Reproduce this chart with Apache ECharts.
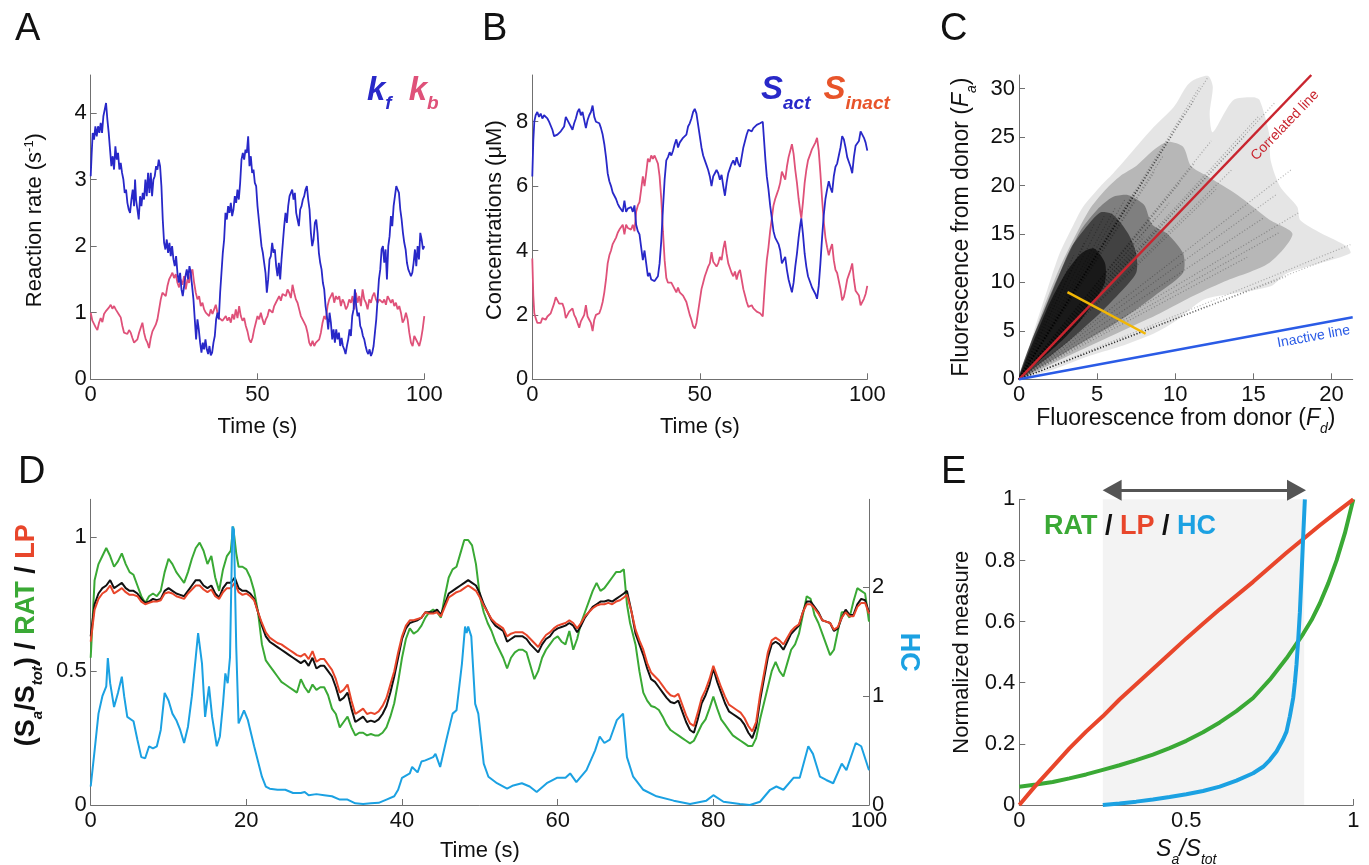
<!DOCTYPE html>
<html><head><meta charset="utf-8">
<script src="https://cdn.jsdelivr.net/npm/echarts@6/dist/echarts.min.js"></script>
<style>html,body{margin:0;padding:0;background:#fff}#c{width:1369px;height:865px}</style>
</head><body><div id="c"></div>
<script>
// ---------------- DATA ----------------
const aTicksX = [0, 50, 100];
const aTicksY = [0, 1, 2, 3, 4];
const kfData = [[0,3.05],[0.3,3.4],[0.6,3.7],[1,3.6],[1.4,3.8],[1.8,3.65],[2.2,3.8],[2.6,3.7],[3,3.85],[3.4,3.7],[3.8,3.95],[4.2,4.05],[4.6,4.15],[5,3.9],[5.4,3.7],[5.8,3.45],[6.2,3.2],[6.6,3.35],[7,3.15],[7.4,3.5],[7.8,3.3],[8.2,3.4],[8.6,3.15],[9,3.25],[9.4,3.1],[9.8,3.0],[10.2,2.8],[10.6,2.85],[11,2.65],[11.4,2.55],[11.8,2.5],[12.2,2.7],[12.6,2.85],[13,2.6],[13.3,3.0],[13.6,2.7],[14,2.55],[14.4,2.4],[14.8,2.75],[15.2,2.6],[15.6,2.8],[16,2.7],[16.4,3.0],[16.8,2.75],[17.2,3.1],[17.6,2.8],[18,3.1],[18.4,2.75],[18.8,3.0],[19.2,3.05],[19.6,3.2],[20,3.15],[20.4,3.3],[20.8,3.2],[21.2,2.9],[21.6,2.4],[22,2.05],[22.4,1.95],[22.8,2.1],[23.2,1.9],[23.6,2.05],[24,1.85],[24.4,2.0],[24.8,1.8],[25.2,1.7],[25.6,1.85],[26,1.6],[26.4,1.45],[26.8,1.6],[27.2,1.35],[27.6,1.25],[28,1.4],[28.4,1.55],[28.8,1.65],[29.2,1.5],[29.6,1.7],[30,1.6],[30.4,1.4],[30.8,1.2],[31.2,0.9],[31.6,0.6],[32,0.9],[32.4,0.75],[32.8,0.55],[33.2,0.4],[33.6,0.55],[34,0.45],[34.4,0.6],[34.8,0.45],[35.2,0.38],[35.6,0.5],[36,0.36],[36.4,0.4],[36.8,0.55],[37.2,0.65],[37.6,0.9],[38,1.0],[38.4,0.9],[38.8,1.3],[39.2,1.6],[39.6,1.9],[40,2.1],[40.4,2.5],[40.8,2.4],[41.2,2.6],[41.6,2.5],[42,2.65],[42.4,2.45],[42.8,2.55],[43.2,2.75],[43.6,2.65],[44,2.85],[44.4,2.7],[44.8,2.95],[45.2,3.3],[45.6,3.4],[46,3.3],[46.4,3.45],[46.8,3.4],[47.2,3.65],[47.6,3.2],[48,3.35],[48.4,3.1],[48.8,3.15],[49.2,2.95],[49.6,2.9],[50,2.6],[50.4,2.4],[50.8,2.2],[51.2,2.0],[51.6,1.9],[52,1.75],[52.4,1.6],[52.8,1.3],[53.2,1.5],[53.6,1.8],[54,1.85],[54.4,2.05],[54.8,1.9],[55.2,1.95],[55.6,1.7],[56,1.55],[56.4,1.75],[56.8,1.5],[57.2,1.8],[57.6,2.05],[58,2.3],[58.4,2.5],[58.8,2.35],[59.2,2.6],[59.6,2.75],[60,2.8],[60.4,2.85],[60.8,2.7],[61.2,2.8],[61.6,2.5],[62,2.4],[62.4,2.3],[62.8,2.55],[63.2,2.6],[63.6,2.7],[64,2.75],[64.4,2.85],[64.8,2.9],[65.2,2.7],[65.6,2.55],[66,2.2],[66.4,2.0],[66.8,2.1],[67.2,2.35],[67.6,2.4],[68,2.2],[68.4,1.9],[68.8,1.75],[69.2,1.65],[69.6,1.45],[70,1.35],[70.4,1.1],[70.8,0.95],[71.2,0.75],[71.6,1.0],[72,0.85],[72.4,0.6],[72.8,0.75],[73.2,0.55],[73.6,0.75],[74,0.6],[74.4,0.7],[74.8,0.5],[75.2,0.62],[75.6,0.5],[76,0.45],[76.4,0.38],[76.8,0.5],[77.2,0.6],[77.6,0.75],[78,0.65],[78.4,0.95],[78.8,1.05],[79.2,1.35],[79.6,1.1],[80,0.95],[80.4,1.0],[80.8,0.8],[81.2,0.75],[81.6,0.65],[82,0.6],[82.4,0.5],[82.8,0.42],[83.2,0.38],[83.6,0.45],[84,0.35],[84.4,0.4],[84.8,0.5],[85.2,0.7],[85.6,0.9],[86,1.2],[86.4,1.5],[86.8,1.65],[87.2,1.95],[87.6,2.0],[88,1.75],[88.4,1.95],[88.8,1.5],[89.2,2.0],[89.6,2.15],[90,2.45],[90.4,2.3],[90.8,2.6],[91.2,2.75],[91.6,2.9],[92,2.85],[92.4,2.8],[92.8,2.55],[93.2,2.4],[93.6,2.2],[94,2.05],[94.4,1.95],[94.8,1.75],[95.2,1.65],[95.6,1.6],[96,1.55],[96.4,1.6],[96.8,1.75],[97.2,1.95],[97.6,1.7],[98,2.0],[98.4,1.8],[98.8,2.2],[99.2,2.1],[99.6,1.95],[100,2.0]];
const kbData = [[0,1.0],[0.5,0.88],[1,0.85],[1.5,0.78],[2,0.74],[2.5,0.85],[3,0.92],[3.5,0.86],[4,0.98],[4.5,1.02],[5,1.0],[5.5,1.08],[6,1.12],[6.5,1.06],[7,1.1],[7.5,1.05],[8,1.04],[8.5,0.97],[9,0.93],[9.5,0.8],[10,0.7],[10.5,0.72],[11,0.68],[11.5,0.74],[12,0.7],[12.5,0.62],[13,0.55],[13.5,0.52],[14,0.6],[14.5,0.7],[15,0.72],[15.5,0.85],[16,0.7],[16.5,0.6],[17,0.55],[17.5,0.47],[18,0.62],[18.5,0.72],[19,0.75],[19.5,0.82],[20,0.9],[20.5,1.05],[21,1.2],[21.5,1.3],[22,1.32],[22.5,1.25],[23,1.4],[23.5,1.5],[24,1.55],[24.5,1.6],[25,1.52],[25.5,1.58],[26,1.45],[26.5,1.38],[27,1.5],[27.5,1.42],[28,1.55],[28.5,1.35],[29,1.5],[29.5,1.45],[30,1.6],[30.5,1.65],[31,1.45],[31.5,1.3],[32,1.2],[32.5,1.25],[33,1.1],[33.5,1.15],[34,1.05],[34.5,1.0],[35,1.0],[35.5,0.95],[36,1.05],[36.5,0.98],[37,1.05],[37.5,1.12],[38,1.0],[38.5,0.92],[39,0.95],[39.5,0.88],[40,0.9],[40.5,0.95],[41,0.88],[41.5,0.93],[42,0.85],[42.5,0.98],[43,0.9],[43.5,1.05],[44,0.92],[44.5,1.1],[45,0.95],[45.5,0.88],[46,0.92],[46.5,0.8],[47,0.72],[47.5,0.6],[48,0.55],[48.5,0.62],[49,0.75],[49.5,0.85],[50,0.95],[50.5,0.9],[51,1.0],[51.5,0.9],[52,0.82],[52.5,0.9],[53,0.95],[53.5,1.05],[54,1.08],[54.5,1.0],[55,1.1],[55.5,1.15],[56,1.12],[56.5,1.25],[57,1.18],[57.5,1.28],[58,1.3],[58.5,1.25],[59,1.35],[59.5,1.3],[60,1.22],[60.5,1.42],[61,1.3],[61.5,1.2],[62,1.15],[62.5,1.05],[63,0.95],[63.5,0.9],[64,0.85],[64.5,0.8],[65,0.7],[65.5,0.55],[66,0.5],[66.5,0.58],[67,0.5],[67.5,0.55],[68,0.52],[68.5,0.6],[69,0.7],[69.5,0.85],[70,0.95],[70.5,0.9],[71,1.1],[71.5,1.2],[72,1.25],[72.5,1.3],[73,1.15],[73.5,1.25],[74,1.2],[74.5,1.25],[75,1.1],[75.5,1.2],[76,1.15],[76.5,1.05],[77,1.1],[77.5,1.2],[78,1.15],[78.5,1.25],[79,1.05],[79.5,1.3],[80,1.15],[80.5,1.25],[81,1.1],[81.5,1.35],[82,1.2],[82.5,1.15],[83,1.05],[83.5,1.2],[84,1.15],[84.5,1.25],[85,1.3],[85.5,1.2],[86,1.15],[86.5,1.2],[87,1.18],[87.5,1.15],[88,1.2],[88.5,1.12],[89,1.25],[89.5,1.2],[90,1.15],[90.5,1.2],[91,1.1],[91.5,1.15],[92,1.05],[92.5,1.1],[93,1.0],[93.5,0.85],[94,0.9],[94.5,1.0],[95,0.9],[95.5,0.7],[96,0.55],[96.5,0.5],[97,0.65],[97.5,0.68],[98,0.55],[98.5,0.5],[99,0.6],[99.5,0.75],[100,0.95]];

const bTicksY = [0, 2, 4, 6, 8];
const sActData = [[0,6.3],[0.3,7.4],[0.6,8.0],[1,8.2],[1.5,8.3],[2,8.15],[2.5,8.25],[3,8.1],[3.5,8.2],[4,8.25],[4.5,8.1],[5,8.0],[5.5,7.95],[6,7.75],[6.5,7.55],[7,7.5],[7.5,7.6],[8,7.65],[8.5,7.7],[9,7.75],[9.5,7.85],[10,8.15],[10.5,8.05],[11,7.95],[11.5,7.85],[12,7.75],[12.5,7.95],[13,8.1],[13.5,8.3],[14,8.4],[14.5,8.2],[15,8.3],[15.5,8.05],[16,7.8],[16.5,8.05],[17,8.2],[17.5,8.3],[18,8.5],[18.5,8.15],[19,8.0],[19.5,8.05],[20,7.95],[20.5,7.8],[21,7.6],[21.5,7.3],[22,6.9],[22.5,6.4],[23,6.15],[23.5,6.0],[24,5.8],[24.5,5.7],[25,5.6],[25.5,5.45],[26,5.35],[26.5,5.4],[27,5.2],[27.5,5.55],[28,5.2],[28.5,5.3],[29,5.25],[29.5,5.35],[30,5.2],[30.5,5.4],[31,4.8],[31.5,4.6],[32,4.5],[32.5,4.1],[33,3.7],[33.5,4.0],[34,3.6],[34.5,3.2],[35,3.3],[35.5,3.1],[36,3.15],[36.5,3.05],[37,3.0],[37.5,3.2],[38,3.6],[38.5,4.3],[39,5.3],[39.5,6.2],[40,6.8],[40.5,6.9],[41,7.05],[41.5,6.95],[42,7.1],[42.5,7.3],[43,7.45],[43.5,7.2],[44,7.35],[44.5,7.4],[45,7.5],[45.5,7.45],[46,7.6],[46.5,7.85],[47,7.95],[47.5,8.1],[48,8.3],[48.5,8.4],[49,8.25],[49.5,7.9],[50,7.55],[50.5,7.2],[51,6.95],[51.5,6.8],[52,6.65],[52.5,6.5],[53,6.3],[53.5,6.0],[54,6.3],[54.5,6.4],[55,6.5],[55.5,6.4],[56,6.2],[56.5,6.35],[57,6.0],[57.5,5.7],[58,6.1],[58.5,6.4],[59,6.55],[59.5,6.7],[60,6.8],[60.5,6.65],[61,6.9],[61.5,6.7],[62,6.6],[62.5,6.9],[63,7.2],[63.5,7.4],[64,7.6],[64.5,7.75],[65,7.8],[65.5,7.7],[66,7.8],[66.5,7.75],[67,7.9],[67.5,7.85],[68,7.95],[68.5,8.0],[68.8,8.0],[69.2,7.4],[69.6,6.8],[70,6.3],[70.5,5.9],[71,5.4],[71.5,5.0],[72,4.6],[72.5,4.4],[73,4.3],[73.5,4.2],[74,4.0],[74.5,3.6],[75,3.55],[75.5,3.8],[76,3.4],[76.5,3.1],[77,2.9],[77.5,2.7],[78,3.0],[78.5,3.5],[79,3.9],[79.5,4.4],[80,4.8],[80.3,5.0],[80.8,4.5],[81.3,3.9],[81.8,3.5],[82.3,3.2],[83,3.0],[83.5,2.85],[84,2.8],[84.5,2.65],[85,2.5],[85.5,2.9],[86,3.6],[86.5,4.4],[87,5.1],[87.5,5.6],[88,5.9],[88.5,6.15],[89,5.95],[89.5,5.8],[90,6.3],[90.5,6.6],[91,6.7],[91.5,6.75],[92,7.2],[92.5,7.55],[93,7.45],[93.5,7.2],[94,6.9],[94.5,6.75],[95,6.6],[95.5,6.4],[96,6.9],[96.5,7.25],[97,7.2],[97.5,7.4],[98,7.7],[98.5,7.65],[99,7.5],[99.5,7.35],[100,7.1]];
const sInactData = [[0,3.75],[0.3,2.6],[0.6,2.05],[1,1.9],[1.5,1.75],[2,1.8],[2.5,1.75],[3,1.9],[3.5,1.85],[4,1.85],[4.5,1.95],[5,2.0],[5.5,2.05],[6,2.1],[6.5,2.35],[7,2.55],[7.5,2.5],[8,2.35],[8.5,2.4],[9,2.35],[9.5,2.2],[10,1.9],[10.5,2.0],[11,2.1],[11.5,2.15],[12,2.2],[12.5,2.0],[13,1.9],[13.5,1.75],[14,1.6],[14.5,1.8],[15,1.75],[15.5,2.0],[16,2.3],[16.5,1.95],[17,1.85],[17.5,1.75],[18,1.5],[18.5,1.85],[19,2.0],[19.5,1.95],[20,2.05],[20.5,2.2],[21,2.4],[21.5,2.7],[22,3.1],[22.5,3.6],[23,3.85],[23.5,4.0],[24,4.2],[24.5,4.3],[25,4.4],[25.5,4.55],[26,4.65],[26.5,4.6],[27,4.8],[27.5,4.5],[28,4.8],[28.5,4.7],[29,4.75],[29.5,4.65],[30,4.8],[30.5,4.6],[31,5.2],[31.5,5.4],[32,5.5],[32.5,5.9],[33,6.3],[33.5,6.0],[34,6.4],[34.5,6.85],[35,6.75],[35.5,6.95],[36,6.85],[36.5,6.95],[37,6.9],[37.5,6.7],[38,6.3],[38.5,5.6],[39,4.6],[39.5,3.7],[40,3.15],[40.5,3.0],[41,2.95],[41.5,3.0],[42,2.95],[42.5,2.8],[43,2.7],[43.5,2.85],[44,2.7],[44.5,2.65],[45,2.6],[45.5,2.55],[46,2.4],[46.5,2.2],[47,2.0],[47.5,1.85],[48,1.65],[48.5,1.58],[49,1.75],[49.5,2.1],[50,2.45],[50.5,2.8],[51,3.0],[51.5,3.2],[52,3.35],[52.5,3.5],[53,3.6],[53.5,3.95],[54,3.65],[54.5,3.6],[55,3.5],[55.5,3.6],[56,3.8],[56.5,3.7],[57,4.05],[57.5,4.3],[58,3.9],[58.5,3.6],[59,3.45],[59.5,3.3],[60,3.2],[60.5,3.35],[61,3.1],[61.5,3.3],[62,3.4],[62.5,3.1],[63,2.8],[63.5,2.6],[64,2.4],[64.5,2.25],[65,2.2],[65.5,2.3],[66,2.2],[66.5,2.25],[67,2.1],[67.5,2.15],[68,2.05],[68.5,2.0],[68.8,1.95],[69.2,2.6],[69.6,3.2],[70,3.7],[70.5,4.1],[71,4.6],[71.5,5.0],[72,5.4],[72.5,5.6],[73,5.75],[73.5,5.9],[74,6.1],[74.5,6.45],[75,6.5],[75.5,6.2],[76,6.6],[76.5,6.9],[77,7.1],[77.5,7.3],[78,7.0],[78.5,6.5],[79,6.1],[79.5,5.6],[80,5.2],[80.3,5.0],[80.8,5.5],[81.3,6.1],[81.8,6.5],[82.3,6.8],[83,7.0],[83.5,7.15],[84,7.2],[84.5,7.35],[85,7.5],[85.5,7.1],[86,6.4],[86.5,5.6],[87,4.9],[87.5,4.4],[88,4.1],[88.5,3.85],[89,4.05],[89.5,4.2],[90,3.7],[90.5,3.4],[91,3.3],[91.5,3.25],[92,2.8],[92.5,2.45],[93,2.55],[93.5,2.8],[94,3.1],[94.5,3.25],[95,3.4],[95.5,3.6],[96,3.1],[96.5,2.75],[97,2.8],[97.5,2.6],[98,2.3],[98.5,2.35],[99,2.5],[99.5,2.65],[100,2.9]];

const cTicksX = [0, 5, 10, 15, 20];
const cTicksY = [0, 5, 10, 15, 20, 25, 30];
// density envelopes of the point cloud (outer = sparse ... inner = densest)
const cCloudOuter = [[0,0],[0.28,0.96],[0.9,4.7],[1.8,9.2],[2.6,13],[3.5,16],[4.1,17.8],[5.2,19.9],[6.0,21.2],[7.3,23.6],[8.6,26],[9.9,28.1],[10.7,30.2],[11.2,30.9],[12.1,31.3],[12.4,30.2],[12.2,27.4],[12.4,25.5],[13.7,28.8],[15,29.1],[15.4,28.8],[16,25.4],[16.1,22.6],[16.7,19.9],[17.8,17.8],[18,16.4],[19.3,15.1],[21,13.7],[21.2,13],[19.3,12],[17.1,10.9],[16.1,9.6],[13.9,8.9],[11.8,8.2],[10.1,6.1],[8.6,4.7],[6.5,3.4],[4.3,2.3],[2.2,1.0],[0.7,0.3]];
const cCloudMid = [[0,0],[0.5,2.5],[1.6,7.5],[2.6,11.5],[3.5,14.5],[4.5,17.5],[5.5,19.5],[6.5,21],[7.5,22],[8.5,23.5],[9.5,24.5],[10.5,24],[11,22],[12,21],[14,19],[16,16.5],[17.5,15],[16,12],[13,10],[11,8.5],[9,6.8],[7,5.3],[5,3.8],[3,2.3],[1.5,1.1]];
const cCloudDark = [[0,0],[0.3,1.8],[1.2,5.5],[2.2,9.5],[3.2,13],[4,15.5],[5,17.5],[6,18.8],[7,19],[8,18],[8.5,16],[9.5,15],[10.5,13],[10.5,11],[9,9],[7.5,7.2],[6,5.6],[4.5,4.2],[3,2.8],[1.5,1.4]];
const cCloudCore = [[0,0],[0.2,1.3],[0.8,4],[1.6,7],[2.5,10.5],[3.3,13.5],[4.2,15.5],[5.2,17.2],[6,17],[7,15],[7.5,13],[7.5,11],[6.5,9],[5.3,7],[4,5.1],[3,3.7],[2,2.4],[1,1.2]];
const cCloudInner = [[0,0],[0.3,1.5],[1.2,5],[2,8],[3,11],[4,13],[4.8,13.5],[5.5,12],[5.5,10],[4.8,8],[4,6.2],[3,4.4],[2,2.9],[1,1.5]];
const cStreakEnds = [[12.1,31.2],[11.6,30.3],[11.2,28.8],[10.5,27.2],[9.8,25.2],[9.2,23],[8.7,21.5],[8.0,20.6],[7.4,19.4],[6.8,18.6],[6.2,17.8],[5.5,17],[4.8,16],[4.2,14.2],[3.5,12.8],[12.3,24.6],[11.2,22.2],[10.3,20.3],[9.6,18.2],[8.7,16.6],[8.0,14.7],[7.3,13.2],[6.6,12.1],[16.4,28.6],[15.3,27.1],[14.5,25.2],[13.6,21.6],[12.6,19.6],[17.4,21.6],[16.5,19.1],[15.6,16.6],[17.9,17.2],[16.6,15.1],[14.6,12.6],[21.2,13.9],[20.1,12.6],[17.1,10.6],[14.6,9.1],[12.1,7.6],[10.1,6.3],[8.6,5.3]];
const cCorrelated = [[0,0],[18.7,31.4]];
const cInactive = [[0,0],[21.35,6.4]];
const cYellow = [[3.1,9.0],[8.1,4.7]];

const dTicksX = [0, 20, 40, 60, 80, 100];
const dTicksY = [0, 0.5, 1];
const dTicksY2 = [0, 1, 2];
const dS = [[0,0.63],[0.5,0.75],[1,0.79],[1.5,0.81],[2,0.82],[2.5,0.84],[3,0.81],[3.5,0.82],[4,0.83],[4.5,0.81],[5,0.80],[5.5,0.80],[6,0.79],[6.5,0.77],[7,0.755],[7.5,0.76],[8,0.77],[8.5,0.765],[9,0.77],[9.5,0.8],[10,0.81],[10.5,0.80],[11,0.79],[11.5,0.785],[12,0.78],[12.5,0.8],[13,0.82],[13.5,0.84],[14,0.84],[14.5,0.82],[15,0.81],[15.5,0.82],[16,0.79],[16.5,0.775],[17,0.81],[17.5,0.83],[18,0.83],[18.5,0.85],[19,0.81],[19.5,0.8],[20,0.8],[20.5,0.79],[21,0.77],[21.5,0.72],[22,0.67],[22.5,0.63],[23,0.61],[23.5,0.6],[24,0.59],[24.5,0.58],[25,0.57],[25.5,0.56],[26,0.55],[26.5,0.54],[27,0.53],[27.5,0.54],[28,0.52],[28.5,0.55],[29,0.51],[29.5,0.52],[30,0.52],[30.5,0.5],[31,0.48],[31.5,0.44],[32,0.39],[32.5,0.4],[33,0.42],[33.5,0.36],[34,0.31],[34.5,0.32],[35,0.33],[35.5,0.31],[36,0.315],[36.5,0.31],[37,0.32],[37.5,0.34],[38,0.37],[38.5,0.42],[39,0.48],[39.5,0.55],[40,0.62],[40.5,0.66],[41,0.68],[41.5,0.685],[42,0.69],[42.5,0.7],[43,0.72],[43.5,0.72],[44,0.72],[44.5,0.73],[45,0.71],[45.5,0.75],[46,0.79],[46.5,0.8],[47,0.81],[47.5,0.82],[48,0.83],[48.5,0.84],[49,0.83],[49.5,0.82],[50,0.79],[50.5,0.75],[51,0.72],[51.5,0.69],[52,0.67],[52.5,0.66],[53,0.65],[53.5,0.61],[54,0.62],[54.5,0.63],[55,0.63],[55.5,0.63],[56,0.62],[56.5,0.6],[57,0.585],[57.5,0.57],[58,0.6],[58.5,0.62],[59,0.63],[59.5,0.65],[60,0.66],[60.5,0.665],[61,0.67],[61.5,0.68],[62,0.67],[62.5,0.645],[63,0.67],[63.5,0.7],[64,0.72],[64.5,0.74],[65,0.75],[65.5,0.76],[66,0.76],[66.5,0.765],[67,0.76],[67.5,0.77],[68,0.78],[68.5,0.79],[68.9,0.80],[69.5,0.72],[70,0.64],[70.5,0.6],[71,0.56],[71.5,0.51],[72,0.47],[72.5,0.46],[73,0.44],[73.5,0.42],[74,0.40],[74.5,0.385],[75,0.38],[75.5,0.39],[76,0.35],[76.5,0.31],[77,0.28],[77.5,0.27],[78,0.32],[78.5,0.38],[79,0.41],[79.5,0.45],[80,0.51],[80.5,0.46],[81,0.42],[81.5,0.38],[82,0.35],[82.5,0.34],[83,0.33],[83.5,0.32],[84,0.3],[84.5,0.27],[85,0.25],[85.5,0.29],[86,0.39],[86.5,0.47],[87,0.55],[87.5,0.6],[88,0.61],[88.5,0.6],[89,0.58],[89.5,0.61],[90,0.64],[90.5,0.655],[91,0.67],[91.5,0.72],[92,0.76],[92.5,0.76],[93,0.74],[93.5,0.72],[94,0.69],[94.5,0.685],[95,0.68],[95.5,0.65],[96,0.66],[96.5,0.7],[97,0.73],[97.5,0.71],[98,0.71],[98.5,0.75],[99,0.77],[99.5,0.765],[100,0.72]];
const dLP = [[0,0.61],[0.5,0.73],[1,0.77],[1.5,0.79],[2,0.8],[2.5,0.82],[3,0.79],[3.5,0.8],[4,0.81],[4.5,0.795],[5,0.785],[5.5,0.785],[6,0.78],[6.5,0.76],[7,0.75],[7.5,0.755],[8,0.76],[8.5,0.76],[9,0.765],[9.5,0.79],[10,0.795],[10.5,0.79],[11,0.78],[11.5,0.775],[12,0.77],[12.5,0.79],[13,0.805],[13.5,0.82],[14,0.82],[14.5,0.805],[15,0.795],[15.5,0.805],[16,0.78],[16.5,0.77],[17,0.795],[17.5,0.81],[18,0.81],[18.5,0.83],[19,0.795],[19.5,0.785],[20,0.79],[20.5,0.78],[21,0.765],[21.5,0.72],[22,0.68],[22.5,0.645],[23,0.625],[23.5,0.615],[24,0.605],[24.5,0.6],[25,0.59],[25.5,0.58],[26,0.57],[26.5,0.56],[27,0.555],[27.5,0.565],[28,0.545],[28.5,0.575],[29,0.535],[29.5,0.545],[30,0.545],[30.5,0.525],[31,0.505],[31.5,0.47],[32,0.42],[32.5,0.43],[33,0.45],[33.5,0.39],[34,0.34],[34.5,0.35],[35,0.36],[35.5,0.34],[36,0.345],[36.5,0.34],[37,0.35],[37.5,0.37],[38,0.4],[38.5,0.45],[39,0.5],[39.5,0.57],[40,0.63],[40.5,0.67],[41,0.69],[41.5,0.69],[42,0.695],[42.5,0.7],[43,0.72],[43.5,0.715],[44,0.715],[44.5,0.72],[45,0.705],[45.5,0.74],[46,0.775],[46.5,0.785],[47,0.795],[47.5,0.8],[48,0.81],[48.5,0.82],[49,0.81],[49.5,0.8],[50,0.775],[50.5,0.745],[51,0.72],[51.5,0.695],[52,0.68],[52.5,0.67],[53,0.66],[53.5,0.63],[54,0.64],[54.5,0.645],[55,0.645],[55.5,0.645],[56,0.635],[56.5,0.62],[57,0.605],[57.5,0.59],[58,0.615],[58.5,0.635],[59,0.645],[59.5,0.66],[60,0.67],[60.5,0.675],[61,0.68],[61.5,0.69],[62,0.68],[62.5,0.66],[63,0.68],[63.5,0.705],[64,0.72],[64.5,0.735],[65,0.745],[65.5,0.75],[66,0.75],[66.5,0.755],[67,0.75],[67.5,0.76],[68,0.765],[68.5,0.775],[68.9,0.785],[69.5,0.72],[70,0.655],[70.5,0.615],[71,0.58],[71.5,0.53],[72,0.495],[72.5,0.48],[73,0.465],[73.5,0.445],[74,0.425],[74.5,0.41],[75,0.405],[75.5,0.415],[76,0.375],[76.5,0.335],[77,0.305],[77.5,0.295],[78,0.345],[78.5,0.4],[79,0.43],[79.5,0.47],[80,0.52],[80.5,0.48],[81,0.44],[81.5,0.405],[82,0.375],[82.5,0.365],[83,0.355],[83.5,0.345],[84,0.325],[84.5,0.295],[85,0.275],[85.5,0.31],[86,0.41],[86.5,0.49],[87,0.57],[87.5,0.615],[88,0.625],[88.5,0.615],[89,0.6],[89.5,0.625],[90,0.65],[90.5,0.665],[91,0.675],[91.5,0.72],[92,0.75],[92.5,0.75],[93,0.735],[93.5,0.715],[94,0.69],[94.5,0.685],[95,0.68],[95.5,0.655],[96,0.665],[96.5,0.7],[97,0.72],[97.5,0.705],[98,0.705],[98.5,0.74],[99,0.755],[99.5,0.755],[100,0.715]];
const dRAT = [[0,0.55],[0.5,0.84],[1,0.9],[1.5,0.93],[2,0.96],[2.5,0.93],[3,0.89],[3.5,0.91],[4,0.94],[4.5,0.9],[5,0.87],[5.5,0.86],[6,0.82],[6.5,0.78],[7,0.755],[7.5,0.78],[8,0.79],[8.5,0.78],[9,0.8],[9.5,0.87],[10,0.92],[10.5,0.9],[11,0.87],[11.5,0.85],[12,0.83],[12.5,0.87],[13,0.92],[13.5,0.96],[14,0.98],[14.5,0.95],[15,0.9],[15.5,0.93],[16,0.85],[16.5,0.8],[17,0.88],[17.5,0.93],[18,0.95],[18.3,1.04],[18.7,0.94],[19,0.89],[19.5,0.89],[20,0.88],[20.5,0.85],[21,0.8],[21.5,0.72],[22,0.6],[22.5,0.54],[23,0.52],[23.5,0.5],[24,0.48],[24.5,0.46],[25,0.45],[25.5,0.44],[26,0.43],[26.5,0.42],[27,0.47],[27.5,0.44],[28,0.42],[28.5,0.45],[29,0.43],[29.5,0.44],[30,0.44],[30.5,0.41],[31,0.36],[31.5,0.34],[32,0.29],[32.5,0.31],[33,0.33],[33.5,0.29],[34,0.26],[34.5,0.27],[35,0.27],[35.5,0.26],[36,0.265],[36.5,0.26],[37,0.26],[37.5,0.27],[38,0.29],[38.5,0.33],[39,0.38],[39.5,0.46],[40,0.55],[40.5,0.62],[41,0.66],[41.5,0.64],[42,0.65],[42.5,0.67],[43,0.7],[43.5,0.72],[44,0.73],[44.5,0.72],[45,0.7],[45.5,0.78],[46,0.85],[46.5,0.88],[47,0.89],[47.5,0.94],[48,0.99],[48.5,0.99],[49,0.97],[49.5,0.9],[50,0.78],[50.5,0.72],[51,0.68],[51.5,0.65],[52,0.61],[52.5,0.58],[53,0.55],[53.5,0.51],[54,0.55],[54.5,0.57],[55,0.58],[55.5,0.58],[56,0.57],[56.5,0.52],[57,0.47],[57.5,0.5],[58,0.55],[58.5,0.58],[59,0.6],[59.5,0.62],[60,0.63],[60.5,0.61],[61,0.6],[61.5,0.65],[62,0.58],[62.5,0.62],[63,0.68],[63.5,0.72],[64,0.76],[64.5,0.8],[65,0.83],[65.5,0.8],[66,0.81],[66.5,0.83],[67,0.85],[67.5,0.87],[68,0.87],[68.5,0.88],[68.9,0.75],[69.3,0.68],[70,0.6],[70.5,0.5],[71,0.42],[71.5,0.39],[72,0.37],[72.5,0.365],[73,0.355],[73.5,0.33],[74,0.3],[74.5,0.28],[75,0.27],[75.5,0.26],[76,0.25],[76.5,0.24],[77,0.23],[77.5,0.24],[78,0.27],[78.5,0.3],[79,0.32],[79.5,0.36],[80,0.405],[80.5,0.36],[81,0.32],[81.5,0.3],[82,0.28],[82.5,0.26],[83,0.25],[83.5,0.24],[84,0.23],[84.5,0.22],[85,0.22],[85.5,0.25],[86,0.32],[86.5,0.38],[87,0.44],[87.5,0.5],[88,0.535],[88.5,0.5],[89,0.48],[89.5,0.53],[90,0.58],[90.5,0.6],[91,0.64],[91.5,0.71],[92,0.78],[92.5,0.77],[93,0.71],[93.5,0.68],[94,0.64],[94.5,0.6],[95,0.56],[95.5,0.58],[96,0.65],[96.5,0.72],[97,0.72],[97.5,0.7],[98,0.76],[98.5,0.81],[99,0.8],[99.5,0.79],[100,0.685]];
const dHC = [[0,0.17],[0.5,0.5],[1,0.84],[1.5,1.0],[2,1.09],[2.2,1.35],[2.5,1.12],[3,0.9],[3.5,1.03],[4,1.18],[4.3,1.0],[4.7,0.81],[5.5,0.77],[6,0.6],[6.5,0.44],[7,0.43],[7.5,0.54],[8,0.52],[8.5,0.54],[9,0.69],[9.5,1.03],[10,0.96],[10.5,0.84],[11,0.78],[11.5,0.69],[12,0.57],[12.5,0.72],[13,1.0],[13.5,1.36],[13.8,1.58],[14.3,1.3],[14.7,0.81],[15.2,1.09],[15.6,0.81],[16.2,0.54],[16.6,0.63],[17,0.93],[17.3,1.21],[17.6,1.12],[17.9,1.36],[18.2,2.56],[18.4,2.53],[18.7,1.45],[19,0.75],[19.3,0.8],[19.7,0.87],[20.2,0.78],[21,0.54],[22,0.26],[22.5,0.17],[23,0.15],[24,0.14],[25,0.14],[26,0.11],[27,0.11],[27.5,0.12],[28,0.09],[29,0.1],[30,0.09],[31,0.08],[32,0.05],[33,0.05],[34,0.015],[35,0.01],[36,0.015],[37,0.02],[38,0.05],[39,0.08],[39.5,0.14],[40,0.25],[41,0.29],[41.3,0.35],[42,0.3],[42.5,0.4],[43,0.41],[44,0.44],[44.3,0.47],[44.9,0.35],[45.7,0.6],[46.5,0.84],[47,0.87],[47.7,1.3],[48.1,1.64],[48.3,1.58],[48.5,1.64],[48.9,1.55],[49.4,0.93],[49.8,0.84],[50.5,0.38],[51.1,0.26],[52.2,0.2],[53.5,0.15],[54.3,0.18],[55.4,0.2],[56.4,0.17],[57.3,0.12],[58.6,0.2],[59.9,0.25],[61,0.25],[61.6,0.29],[62.4,0.21],[63.7,0.32],[64.8,0.5],[65.4,0.63],[66,0.57],[66.7,0.6],[67.6,0.78],[68.4,0.84],[68.9,0.44],[69.7,0.26],[71,0.14],[72.7,0.08],[74.9,0.04],[77,0.01],[79.1,0.04],[80,0.09],[81.3,0.03],[83.4,0.01],[84.7,0],[86,0.03],[87.3,0.14],[88.1,0.17],[89,0.14],[90.3,0.25],[91.1,0.25],[92.2,0.54],[92.8,0.47],[93.7,0.26],[94.5,0.23],[95.4,0.2],[96.5,0.38],[97.1,0.32],[98.3,0.57],[99,0.54],[100,0.32]];

const eTicksX = [0, 0.5, 1];
const eTicksY = [0, 0.2, 0.4, 0.6, 0.8, 1];
const eRAT = [[0,0.06],[0.05,0.067],[0.1,0.075],[0.15,0.087],[0.2,0.1],[0.25,0.115],[0.3,0.13],[0.35,0.147],[0.4,0.165],[0.45,0.186],[0.5,0.21],[0.55,0.238],[0.6,0.27],[0.65,0.307],[0.7,0.35],[0.75,0.41],[0.8,0.48],[0.85,0.56],[0.875,0.605],[0.9,0.66],[0.925,0.725],[0.95,0.8],[0.975,0.89],[1,1]];
const eLP = [[0,0],[0.05,0.065],[0.1,0.125],[0.15,0.185],[0.2,0.24],[0.25,0.29],[0.3,0.345],[0.35,0.395],[0.4,0.445],[0.45,0.495],[0.5,0.545],[0.55,0.593],[0.6,0.64],[0.65,0.685],[0.7,0.73],[0.75,0.778],[0.8,0.825],[0.85,0.87],[0.9,0.915],[0.95,0.958],[1,1]];
const eHC = [[0.25,0],[0.3,0.005],[0.35,0.011],[0.4,0.018],[0.45,0.026],[0.5,0.035],[0.55,0.046],[0.6,0.06],[0.65,0.08],[0.7,0.104],[0.73,0.125],[0.75,0.147],[0.77,0.175],[0.79,0.215],[0.8,0.24],[0.81,0.29],[0.82,0.35],[0.825,0.4],[0.83,0.46],[0.835,0.54],[0.84,0.63],[0.845,0.75],[0.85,0.88],[0.855,1.0]];
const eShade = [0.25, 0.853];
const eArrow = [[0.278, 1.03], [0.83, 1.03]];

// ---------------- STYLE ----------------
const FONT = "'Liberation Sans', Arial, Helvetica, sans-serif";
const AX = '#707070';
const BLUE = '#2828c8', PINK = '#df5179';
const DG = '#3aa935', DR = '#e8462b', DB = '#1ba1e2', DK = '#111111';

function mkAxis(o) {
  return {
    type: 'value', gridIndex: o.grid, min: o.min, max: o.max, position: o.position,
    show: o.show !== false,
    axisLine: {show: true, onZero: false, lineStyle: {color: AX, width: 1}},
    axisTick: {show: true, inside: true, length: 6, customValues: o.ticks, lineStyle: {color: AX, width: 1}},
    axisLabel: {show: true, customValues: o.ticks, color: '#111', fontSize: 22, fontFamily: FONT, margin: o.margin != null ? o.margin : 5},
    splitLine: {show: false},
    name: o.name, nameLocation: 'middle', nameGap: o.gap, nameRotate: o.rotate,
    nameTextStyle: Object.assign({color: '#111', fontSize: 22, fontFamily: FONT}, o.nameStyle || {})
  };
}
const subRich = (color, size) => ({
  n: {fontSize: size, fontFamily: FONT, color: color, lineHeight: 34},
  i: {fontSize: size, fontFamily: FONT, color: color, fontStyle: 'italic', lineHeight: 34},
  sub: {fontSize: 14, fontFamily: FONT, color: color, fontStyle: 'italic', lineHeight: 14, verticalAlign: 'bottom'}
});

const grids = [
  {left: 90.7, top: 75, width: 333.6, height: 304.3},
  {left: 532.3, top: 75, width: 335, height: 304.3},
  {left: 1019, top: 75, width: 333.7, height: 304.3},
  {left: 90.7, top: 499.3, width: 778.3, height: 305.7},
  {left: 1019.3, top: 499.3, width: 334, height: 305.7},
  {left: 1019.3, top: 460, width: 334, height: 345}
].map(g => Object.assign(g, {outerBoundsMode: 'none', containLabel: false}));

const xAxes = [
  mkAxis({grid: 0, min: 0, max: 100, ticks: aTicksX, name: 'Time (s)', gap: 37}),
  mkAxis({grid: 1, min: 0, max: 100, ticks: aTicksX, name: 'Time (s)', gap: 37}),
  mkAxis({grid: 2, min: 0, max: 21.35, ticks: cTicksX, gap: 18,
    name: '{n|Fluorescence from donor (}{i|F}{sub|d}{n|)}', nameStyle: {rich: subRich('#111', 23)}}),
  mkAxis({grid: 3, min: 0, max: 100, ticks: dTicksX, name: 'Time (s)', gap: 35}),
  mkAxis({grid: 4, min: 0, max: 1, ticks: eTicksX, gap: 28,
    name: '{i|S}{sub|a}{i|/S}{sub|tot}', nameStyle: {rich: subRich('#111', 23)}}),
  mkAxis({grid: 5, min: 0, max: 1, ticks: [], show: false})
];
const yAxes = [
  mkAxis({grid: 0, min: 0, max: 4.57, ticks: aTicksY, margin: 4, gap: 44,
    name: '{n|Reaction rate (s}{sup|-1}{n|)}',
    nameStyle: {padding: [0, 0, 0, 14], rich: {n: {fontSize: 22, fontFamily: FONT, color: '#111', lineHeight: 24},
                       sup: {fontSize: 13, fontFamily: FONT, color: '#111', lineHeight: 13, verticalAlign: 'top'}}}}),
  mkAxis({grid: 1, min: 0, max: 9.45, ticks: bTicksY, margin: 4, gap: 26, name: 'Concentrations (μM)',
    nameStyle: {padding: [0, 0, 0, 14]}}),
  mkAxis({grid: 2, min: 0, max: 31.4, ticks: cTicksY, margin: 4, gap: 40,
    name: '{n|Fluorescence from donor (}{i|F}{sub|a}{n|)}', nameStyle: {rich: subRich('#111', 23)}}),
  mkAxis({grid: 3, min: 0, max: 1.142, ticks: dTicksY, margin: 4, gap: 37,
    name: '{b|(S}{bs|a}{b|/S}{bs|tot}{b|) / }{g|RAT}{b| / }{r|LP}',
    nameStyle: {padding: [0, 0, 0, 34], rich: {
      b: {fontSize: 27, fontWeight: 'bold', fontFamily: FONT, color: DK, lineHeight: 38},
      bs: {fontSize: 15, fontWeight: 'bold', fontStyle: 'italic', fontFamily: FONT, color: DK, lineHeight: 15, verticalAlign: 'bottom'},
      g: {fontSize: 27, fontWeight: 'bold', fontFamily: FONT, color: DG, lineHeight: 38},
      r: {fontSize: 27, fontWeight: 'bold', fontFamily: FONT, color: DR, lineHeight: 38}}}}),
  mkAxis({grid: 3, min: 0, max: 2.81, ticks: dTicksY2, position: 'right', margin: 3, gap: 11, rotate: -90,
    name: 'HC', nameStyle: {fontSize: 27, fontWeight: 'bold', color: DB}}),
  mkAxis({grid: 4, min: 0, max: 1, ticks: eTicksY, margin: 4, gap: 46, name: 'Normalized measure'}),
  mkAxis({grid: 5, min: 0, max: 1.1286, ticks: [], show: false})
];

const cLayers = [cCloudOuter, cCloudMid, cCloudDark, cCloudCore, cCloudInner];
const cLayerAlpha = [0.1, 0.2, 0.3, 0.48, 0.62];

const line = (name, xi, yi, data, color, width, extra) => Object.assign({
  name, type: 'line', xAxisIndex: xi, yAxisIndex: yi, data, showSymbol: false, symbol: 'none',
  lineStyle: {color, width}, itemStyle: {color}, silent: true, clip: true
}, extra || {});

const series = [
  // A
  line('kb', 0, 0, kbData, PINK, 1.8),
  line('kf', 0, 0, kfData, BLUE, 1.8),
  // B
  line('Sinact', 1, 1, sInactData, PINK, 1.8),
  line('Sact', 1, 1, sActData, BLUE, 1.8),
  // C cloud
  {type: 'custom', xAxisIndex: 2, yAxisIndex: 2, silent: true, z: 1, clip: true,
   data: cLayers.map((_, i) => [i, 0]),
   renderItem: (params, api) => ({
     type: 'polygon',
     shape: {points: cLayers[params.dataIndex].map(p => api.coord(p)), smooth: 0.25},
     style: {fill: 'rgba(0,0,0,' + cLayerAlpha[params.dataIndex] + ')'}
   })},
  {type: 'lines', coordinateSystem: 'cartesian2d', xAxisIndex: 2, yAxisIndex: 2, silent: true, z: 2,
   data: cStreakEnds.map(p => ({coords: [[0, 0], p]})),
   lineStyle: {color: '#000', width: 1.2, opacity: 0.28, type: [1, 2]}},
  {type: 'line', xAxisIndex: 2, yAxisIndex: 2, data: [], silent: true, z: 5,
   markLine: {silent: true, symbol: 'none', animation: false,
     lineStyle: {color: '#c9252f', width: 2.5, type: 'solid'},
     label: {show: true, formatter: 'Correlated line', position: 'insideEndBottom', color: '#c9252f', fontSize: 14, fontFamily: FONT, distance: 9},
     data: [[{coord: cCorrelated[0]}, {coord: cCorrelated[1]}]]}},
  {type: 'line', xAxisIndex: 2, yAxisIndex: 2, data: [], silent: true, z: 5,
   markLine: {silent: true, symbol: 'none', animation: false,
     lineStyle: {color: '#2a5be6', width: 2.5, type: 'solid'},
     label: {show: true, formatter: 'Inactive line', position: 'insideEndBottom', color: '#2a5be6', fontSize: 14, fontFamily: FONT, distance: 5},
     data: [[{coord: cInactive[0]}, {coord: cInactive[1]}]]}},
  line('yellow', 2, 2, cYellow, '#f2b705', 2.5, {z: 6}),
  // D
  line('RAT', 3, 3, dRAT, DG, 2),
  line('Sa/Stot', 3, 3, dS, DK, 2),
  line('LP', 3, 3, dLP, DR, 2),
  line('HC', 3, 4, dHC, DB, 2),
  // E
  {type: 'line', xAxisIndex: 4, yAxisIndex: 5, data: [], silent: true, z: 0,
   markArea: {silent: true, itemStyle: {color: '#f3f3f3'},
     data: [[{coord: [eShade[0], 0]}, {coord: [eShade[1], 1]}]]}},
  line('eRAT', 4, 5, eRAT, DG, 4),
  line('eLP', 4, 5, eLP, DR, 4),
  line('eHC', 4, 5, eHC, DB, 4),
  {type: 'line', xAxisIndex: 5, yAxisIndex: 6, data: [], silent: true, z: 5,
   markLine: {silent: true, symbol: ['triangle', 'triangle'], symbolSize: [21, 19], animation: false,
     lineStyle: {color: '#555', width: 3, type: 'solid'}, label: {show: false},
     data: [[{coord: eArrow[0]}, {coord: eArrow[1]}]]}}
];

const tStyle = {fontSize: 38, fontWeight: 'normal', color: '#111', fontFamily: FONT};
const titles = [
  {text: 'A', left: 10, top: 6, textStyle: tStyle},
  {text: 'B', left: 477, top: 6, textStyle: tStyle},
  {text: 'C', left: 935, top: 6, textStyle: tStyle},
  {text: 'D', left: 13, top: 449, textStyle: tStyle},
  {text: 'E', left: 936, top: 449, textStyle: tStyle},
  {text: '{k|k}{ks|f}{sp|}{k2|k}{ks2|b}', left: 362, top: 64, textStyle: {rich: {
    k: {fontSize: 33, fontWeight: 'bold', fontStyle: 'italic', color: BLUE, fontFamily: FONT, lineHeight: 44},
    ks: {fontSize: 19, fontWeight: 'bold', fontStyle: 'italic', color: BLUE, fontFamily: FONT, lineHeight: 19, verticalAlign: 'bottom'},
    sp: {width: 17},
    k2: {fontSize: 33, fontWeight: 'bold', fontStyle: 'italic', color: PINK, fontFamily: FONT, lineHeight: 44},
    ks2: {fontSize: 19, fontWeight: 'bold', fontStyle: 'italic', color: PINK, fontFamily: FONT, lineHeight: 19, verticalAlign: 'bottom'}}}},
  {text: '{s|S}{ss|act}{sp|}{s2|S}{ss2|inact}', left: 756, top: 62, textStyle: {rich: {
    s: {fontSize: 33, fontWeight: 'bold', fontStyle: 'italic', color: BLUE, fontFamily: FONT, lineHeight: 46},
    ss: {fontSize: 19, fontWeight: 'bold', fontStyle: 'italic', color: BLUE, fontFamily: FONT, lineHeight: 19, verticalAlign: 'bottom'},
    sp: {width: 13},
    s2: {fontSize: 33, fontWeight: 'bold', fontStyle: 'italic', color: '#e8542a', fontFamily: FONT, lineHeight: 46},
    ss2: {fontSize: 19, fontWeight: 'bold', fontStyle: 'italic', color: '#e8542a', fontFamily: FONT, lineHeight: 19, verticalAlign: 'bottom'}}}},
  {text: '{g|RAT}{k| / }{r|LP}{k| / }{b|HC}', left: 1039, top: 508, textStyle: {rich: {
    g: {fontSize: 27, fontWeight: 'bold', color: DG, fontFamily: FONT},
    k: {fontSize: 27, fontWeight: 'bold', color: '#111', fontFamily: FONT},
    r: {fontSize: 27, fontWeight: 'bold', color: DR, fontFamily: FONT},
    b: {fontSize: 27, fontWeight: 'bold', color: DB, fontFamily: FONT}}}}
];

const chart = echarts.init(document.getElementById('c'), null, {renderer: 'canvas'});
chart.setOption({
  backgroundColor: '#fff', animation: false,
  title: titles, grid: grids, xAxis: xAxes, yAxis: yAxes, series: series
});
</script></body></html>
